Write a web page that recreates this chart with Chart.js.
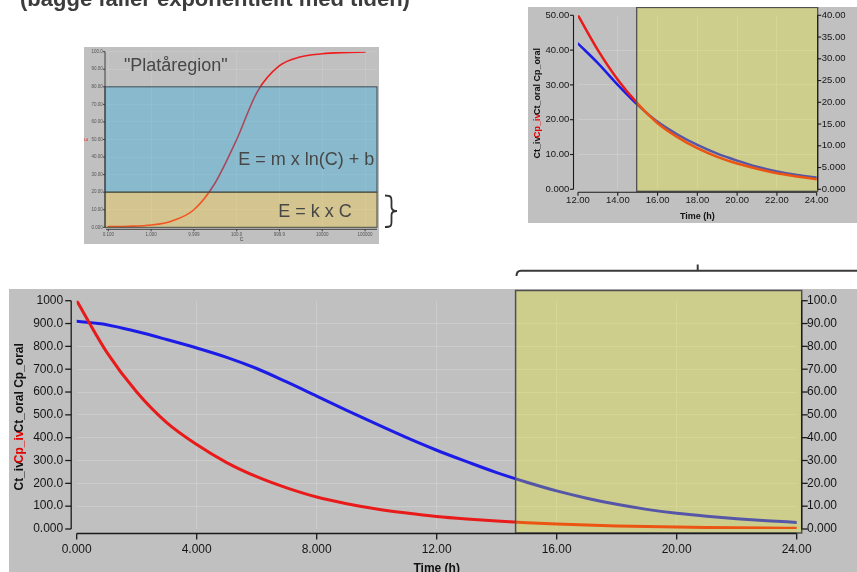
<!DOCTYPE html>
<html>
<head>
<meta charset="utf-8">
<script src="https://cdn.jsdelivr.net/npm/chart.js@4.4.1/dist/chart.umd.min.js"></script>
<style>
html,body{margin:0;padding:0;background:#fff;width:857px;height:572px;overflow:hidden;position:relative;font-family:"Liberation Sans",Arial,Helvetica,sans-serif;}
.panel{position:absolute;background:#c0c0c0;overflow:hidden;}
canvas{display:block;}
#deco{position:absolute;left:0;top:0;pointer-events:none;}
</style>
</head>
<body>
<div class="panel" style="left:84px;top:47px;width:295px;height:197px"><canvas id="cMini" width="295" height="197"></canvas></div>
<div class="panel" style="left:528px;top:7px;width:329px;height:216px"><canvas id="cInset" width="329" height="216"></canvas></div>
<div class="panel" style="left:9px;top:289px;width:848px;height:283px"><canvas id="cMain" width="848" height="283"></canvas></div>
<svg id="deco" width="857" height="572">
  <text x="20" y="5.5" font-family="Liberation Sans, Arial, sans-serif" font-size="22" font-weight="bold" fill="#3c3c3c">(bägge faller exponentiellt med tiden)</text>
  <path d="M385,195.5 C391,195.5 391.5,197 391.5,201 L391.5,207 C391.5,209.8 393,211 397,211 C393,211 391.5,212.2 391.5,215 L391.5,222 C391.5,226 391,227 385,227" fill="none" stroke="#333" stroke-width="1.8"/>
  <path d="M516.5,276 Q516.5,270.7 521,270.7 L857,270.7 M697.7,270.7 L697.7,264.5" fill="none" stroke="#3a3a3a" stroke-width="2"/>
</svg>
<script>
// ================= DATA =================
// Main chart (0-24 h)
const mainHours   = [0,1,2,3,4,5,6,7,8,9,10,11,12,13,14,15,16,17,18,19,20,21,22,23,24];
const mainCpIv    = [1000,775,600,466,370,291,229,180,140,111,88,70,55,44,35,27.5,21.5,17,13.5,10.5,8.3,6.5,5.1,4.0,3.1]; // left axis
const mainCpOral  = [91.0,89.5,86.5,83.0,79.3,75.2,70.3,64.4,58.2,52.0,45.9,40.0,34.5,29.5,24.7,20.5,16.7,13.5,10.8,8.6,6.9,5.6,4.5,3.6,2.9]; // right axis
const mainXTickLabels     = ['0.000','4.000','8.000','12.00','16.00','20.00','24.00'];
const mainLeftTickLabels  = ['0.000','100.0','200.0','300.0','400.0','500.0','600.0','700.0','800.0','900.0','1000'];
const mainRightTickLabels = ['0.000','10.00','20.00','30.00','40.00','50.00','60.00','70.00','80.00','90.00','100.0'];
const mainRegionStart = 14.63;

// Inset chart (12-24 h)
const insetHours  = [12,13,14,15,16,17,18,19,20,21,22,23,24];
const insetCpIv   = [50,40,31.5,24.6,19,15,11.8,9.3,7.4,5.9,4.6,3.7,2.9];       // left axis
const insetCpOral = [33.5,29.0,24.0,19.4,15.5,12.6,10.2,8.2,6.6,5.2,4.1,3.3,2.7]; // right axis
const insetXTickLabels     = ['12.00','14.00','16.00','18.00','20.00','22.00','24.00'];
const insetLeftTickLabels  = ['0.000','10.00','20.00','30.00','40.00','50.00'];
const insetRightTickLabels = ['0.000','5.000','10.00','15.00','20.00','25.00','30.00','35.00','40.00'];
const insetRegionStart = 14.95;

// Concentration-effect picture (log C)
const miniC = [0.1,0.3,1,3,10,30,100,300,1000,3000,10000,30000,100000];
const miniE = [0.4,0.6,1.3,3.5,10,24.5,50,77,92,97,98.8,99.5,99.8];
const miniXTickValues = [0.1,1,10,100,1000,10000,100000];
const miniXTickLabels = ['0.100','1.000','9.999','100.0','999.9','10000','100000'];
const miniYTickLabels = ['0.000','10.00','20.00','30.00','40.00','50.00','60.00','70.00','80.00','90.00','100.0'];
const miniBandLinear = [0,20];
const miniBandLog = [20,80];
const miniNotes = ['"Platåregion"','E = m x ln(C) + b','E = k x C'];

// ================= HELPERS =================
Chart.defaults.font.family = '"Liberation Sans", Arial, Helvetica, sans-serif';
Chart.defaults.color = '#1a1a1a';
Chart.defaults.animation = false;

const FONT = '"Liberation Sans", Arial, Helvetica, sans-serif';
const pts = (xs, ys) => xs.map((x, i) => ({x, y: ys[i]}));
const innerGrid = (color) => ({
  drawTicks: false,
  lineWidth: 1,
  color: (c) => (c.index === 0 || c.index === c.chart.scales[c.scale.id].ticks.length - 1) ? 'rgba(0,0,0,0)' : color
});
const fixW = (w) => (s) => { s.width = w; s.paddingTop = 0; s.paddingBottom = 0; };
const fixH = (h) => (s) => { s.height = h; s.paddingLeft = 0; s.paddingRight = 0; };

const jfc = {
  id: 'jfc',
  afterDatasetsDraw(chart, args, o) {
    const ctx = chart.ctx, a = chart.chartArea, xs = chart.scales.x;
    ctx.save();
    (o.shades || []).forEach(s => {
      const ys = chart.scales[s.axis || 'y'];
      const x0 = s.xFrom != null ? xs.getPixelForValue(s.xFrom) : a.left - (s.padL || 0);
      const x1 = a.right + (s.padR || 0);
      const yTop = s.yTo != null ? ys.getPixelForValue(s.yTo) : (s.top || 0);
      const yBot = s.yFrom != null ? ys.getPixelForValue(s.yFrom) : a.bottom + (s.padB || 0);
      ctx.fillStyle = s.fill;
      ctx.fillRect(x0, yTop, x1 - x0, yBot - yTop);
      ctx.strokeStyle = s.stroke; ctx.lineWidth = s.lw;
      ctx.strokeRect(x0, yTop, x1 - x0, yBot - yTop);
    });
    (o.notes || []).forEach(n => {
      ctx.font = n.font; ctx.fillStyle = n.color; ctx.textAlign = 'center'; ctx.textBaseline = 'middle';
      ctx.fillText(n.text, xs.getPixelForValue(n.x), chart.scales.y.getPixelForValue(n.y));
    });
    ctx.restore();
  },
  afterDraw(chart, args, o) {
    const ctx = chart.ctx, a = chart.chartArea;
    ctx.save();
    ctx.strokeStyle = o.axisColor; ctx.lineWidth = o.axisWidth;
    const line = (x0, y0, x1, y1) => { ctx.beginPath(); ctx.moveTo(x0, y0); ctx.lineTo(x1, y1); ctx.stroke(); };
    const L = chart.scales.y, R = chart.scales.y2, X = chart.scales.x;
    if (L) {
      const xl = a.left - o.offL;
      line(xl, a.top, xl, a.bottom);
      L.ticks.forEach(t => { const y = L.getPixelForValue(t.value); line(xl - o.tick, y, xl, y); });
    }
    if (R) {
      const xr = a.right + o.offR;
      line(xr, a.top, xr, a.bottom);
      R.ticks.forEach(t => { const y = R.getPixelForValue(t.value); line(xr, y, xr + o.tick, y); });
    }
    if (X) {
      const yb = a.bottom + o.offB;
      line(a.left, yb, a.right, yb);
      X.ticks.forEach(t => { const x = X.getPixelForValue(t.value); line(x, yb, x, yb + o.tick); });
    }
    if (o.xTitle) {
      ctx.font = o.xTitle.font; ctx.fillStyle = o.xTitle.color || '#111';
      ctx.textAlign = 'center'; ctx.textBaseline = 'middle';
      ctx.fillText(o.xTitle.text, (a.left + a.right) / 2, a.bottom + o.xTitle.dy);
    }
    if (o.yTitle) {
      const yt = o.yTitle;
      ctx.font = yt.font; ctx.textBaseline = 'middle'; ctx.textAlign = 'left';
      const widths = yt.parts.map(p => ctx.measureText(p.text).width);
      const total = widths.reduce((s, w) => s + w, 0) + (yt.parts.length - 1) * (yt.gap || 0);
      ctx.translate(yt.x, (a.top + a.bottom) / 2 + (yt.dy || 0));
      ctx.rotate(-Math.PI / 2);
      let cx = -total / 2;
      yt.parts.forEach((p, i) => { ctx.fillStyle = p.color; ctx.fillText(p.text, cx, 0); cx += widths[i] + (yt.gap || 0); });
    }
    ctx.restore();
  }
};

function lineDs(data, color, width, axis) {
  return { data, borderColor: color, borderWidth: width, pointRadius: 0, fill: false,
           cubicInterpolationMode: 'monotone', yAxisID: axis, borderCapStyle: 'round', borderJoinStyle: 'round' };
}

const RED = '#e81a1a', BLUE = '#1c1ce6';
const GRID = '#cbcbcb';
const YEL = 'rgba(243,243,0,0.27)';

// ================= MAIN CHART =================
new Chart(document.getElementById('cMain'), {
  type: 'line',
  data: { datasets: [
    lineDs(pts(mainHours, mainCpIv), RED, 3, 'y'),
    lineDs(pts(mainHours, mainCpOral), BLUE, 3, 'y2')
  ]},
  options: {
    responsive: false, devicePixelRatio: 1, animation: false,
    layout: { padding: { top: 11.7, left: 0, right: 0, bottom: 0 } },
    plugins: { legend: { display: false }, tooltip: { enabled: false },
      jfc: {
        axisColor: '#1a1a1a', axisWidth: 1.3, offL: 5.5, offR: 5, offB: 4.5, tick: 6,
        shades: [{ xFrom: mainRegionStart, padR: 5, padB: 4, top: 1.5, fill: YEL, stroke: '#505050', lw: 1.5 }],
        xTitle: { text: 'Time (h)', font: 'bold 12px ' + FONT, dy: 39.5 },
        yTitle: { x: 11, dy: 2, font: 'bold 12px ' + FONT, gap: -2,
          parts: [{text:'Ct_iv', color:'#111'}, {text:'Cp_iv', color:'#e00000'}, {text:'Ct_oral Cp_oral', color:'#111'}] }
      }
    },
    scales: {
      x: { type: 'linear', min: 0, max: 24, border: { display: false }, grid: innerGrid(GRID),
           afterFit: fixH(43),
           ticks: { stepSize: 4, autoSkip: false, maxRotation: 0, padding: 13.3, font: { size: 12 }, color: '#151515',
                    callback: (v, i) => mainXTickLabels[i] } },
      y: { type: 'linear', position: 'left', min: 0, max: 1000, border: { display: false }, grid: innerGrid(GRID),
           afterFit: fixW(67.7),
           ticks: { stepSize: 100, autoSkip: false, padding: 13.5, font: { size: 12 }, color: '#151515',
                    callback: (v, i) => mainLeftTickLabels[i] } },
      y2: { type: 'linear', position: 'right', min: 0, max: 100, border: { display: false }, grid: { display: false, drawTicks: false },
           afterFit: fixW(60.3),
           ticks: { stepSize: 10, autoSkip: false, padding: 10.3, font: { size: 12 }, color: '#151515',
                    callback: (v, i) => mainRightTickLabels[i] } }
    }
  },
  plugins: [jfc]
});

// ================= INSET CHART =================
new Chart(document.getElementById('cInset'), {
  type: 'line',
  data: { datasets: [
    lineDs(pts(insetHours, insetCpIv), RED, 2.5, 'y'),
    lineDs(pts(insetHours, insetCpOral), BLUE, 2.5, 'y2')
  ]},
  options: {
    responsive: false, devicePixelRatio: 1, animation: false,
    layout: { padding: { top: 8.3, left: 0, right: 0, bottom: 0 } },
    plugins: { legend: { display: false }, tooltip: { enabled: false },
      jfc: {
        axisColor: '#1a1a1a', axisWidth: 1.1, offL: 4.5, offR: 1, offB: 3, tick: 3.5,
        shades: [{ xFrom: insetRegionStart, padR: 1, padB: 2, top: 0.5, fill: YEL, stroke: '#505050', lw: 1.3 }],
        xTitle: { text: 'Time (h)', font: 'bold 9px ' + FONT, dy: 27.4 },
        yTitle: { x: 10, dy: 1, font: 'bold 9px ' + FONT, gap: -1.5,
          parts: [{text:'Ct_iv', color:'#111'}, {text:'Cp_iv', color:'#e00000'}, {text:'Ct_oral Cp_oral', color:'#111'}] }
      }
    },
    scales: {
      x: { type: 'linear', min: 12, max: 24, border: { display: false }, grid: innerGrid(GRID),
           afterFit: fixH(33.7),
           ticks: { stepSize: 2, autoSkip: false, maxRotation: 0, padding: 5, font: { size: 9.5 }, color: '#151515',
                    callback: (v, i) => insetXTickLabels[i] } },
      y: { type: 'linear', position: 'left', min: 0, max: 50, border: { display: false }, grid: innerGrid(GRID),
           afterFit: fixW(50),
           ticks: { stepSize: 10, autoSkip: false, padding: 8.7, font: { size: 9.5 }, color: '#151515',
                    callback: (v, i) => insetLeftTickLabels[i] } },
      y2: { type: 'linear', position: 'right', min: 0, max: 40, border: { display: false }, grid: { display: false, drawTicks: false },
           afterFit: fixW(40.3),
           ticks: { stepSize: 5, autoSkip: false, padding: 5, font: { size: 9.5 }, color: '#151515',
                    callback: (v, i) => insetRightTickLabels[i] } }
    }
  },
  plugins: [jfc]
});

// ================= CONCENTRATION-EFFECT PICTURE =================
const NOTE_FONT = '18px ' + FONT;
new Chart(document.getElementById('cMini'), {
  type: 'line',
  data: { datasets: [ lineDs(pts(miniC, miniE), '#ee1c1c', 1.6, 'y') ] },
  options: {
    responsive: false, devicePixelRatio: 1, animation: false,
    layout: { padding: { top: 4.7, left: 0, right: 2, bottom: 0 } },
    plugins: { legend: { display: false }, tooltip: { enabled: false },
      jfc: {
        axisColor: '#333', axisWidth: 0.9, offL: 1, offB: 2, tick: 2,
        shades: [
          { axis: 'y', yFrom: miniBandLog[0], yTo: miniBandLog[1], padL: 1, fill: 'rgba(22,172,229,0.32)', stroke: '#3d4a50', lw: 1 },
          { axis: 'y', yFrom: miniBandLinear[0], yTo: miniBandLinear[1], padL: 1, fill: 'rgba(252,205,45,0.32)', stroke: '#4a4a40', lw: 1 }
        ],
        notes: [
          { text: miniNotes[0], x: 3.78, y: 91.9, font: NOTE_FONT, color: '#474747' },
          { text: miniNotes[1], x: 4230, y: 38.3, font: NOTE_FONT, color: '#474747' },
          { text: miniNotes[2], x: 6760, y: 8.9, font: NOTE_FONT, color: '#474747' }
        ],
        xTitle: { text: 'C', font: '5px ' + FONT, dy: 12.5, color: '#444' },
        yTitle: { x: 3, dy: 0, font: '5px ' + FONT, parts: [{ text: 'E', color: '#e02020' }] }
      }
    },
    scales: {
      x: { type: 'logarithmic', min: 0.0883, max: 190000, border: { display: false },
           grid: { drawTicks: false, color: 'rgba(205,205,205,0.7)', lineWidth: 0.8 },
           afterBuildTicks: s => { s.ticks = miniXTickValues.map(v => ({ value: v })); },
           afterFit: fixH(16.7),
           ticks: { autoSkip: false, maxRotation: 0, padding: 4.7, font: { size: 4.5 }, color: '#555',
                    callback: (v, i) => miniXTickLabels[i] } },
      y: { type: 'linear', min: 0, max: 100, border: { display: false },
           grid: { drawTicks: false, color: 'rgba(205,205,205,0.7)', lineWidth: 0.8 },
           afterFit: fixW(22),
           ticks: { stepSize: 10, autoSkip: false, padding: 3.3, font: { size: 4.5 }, color: '#555',
                    callback: (v, i) => miniYTickLabels[i] } }
    }
  },
  plugins: [jfc]
});
</script>
</body>
</html>
